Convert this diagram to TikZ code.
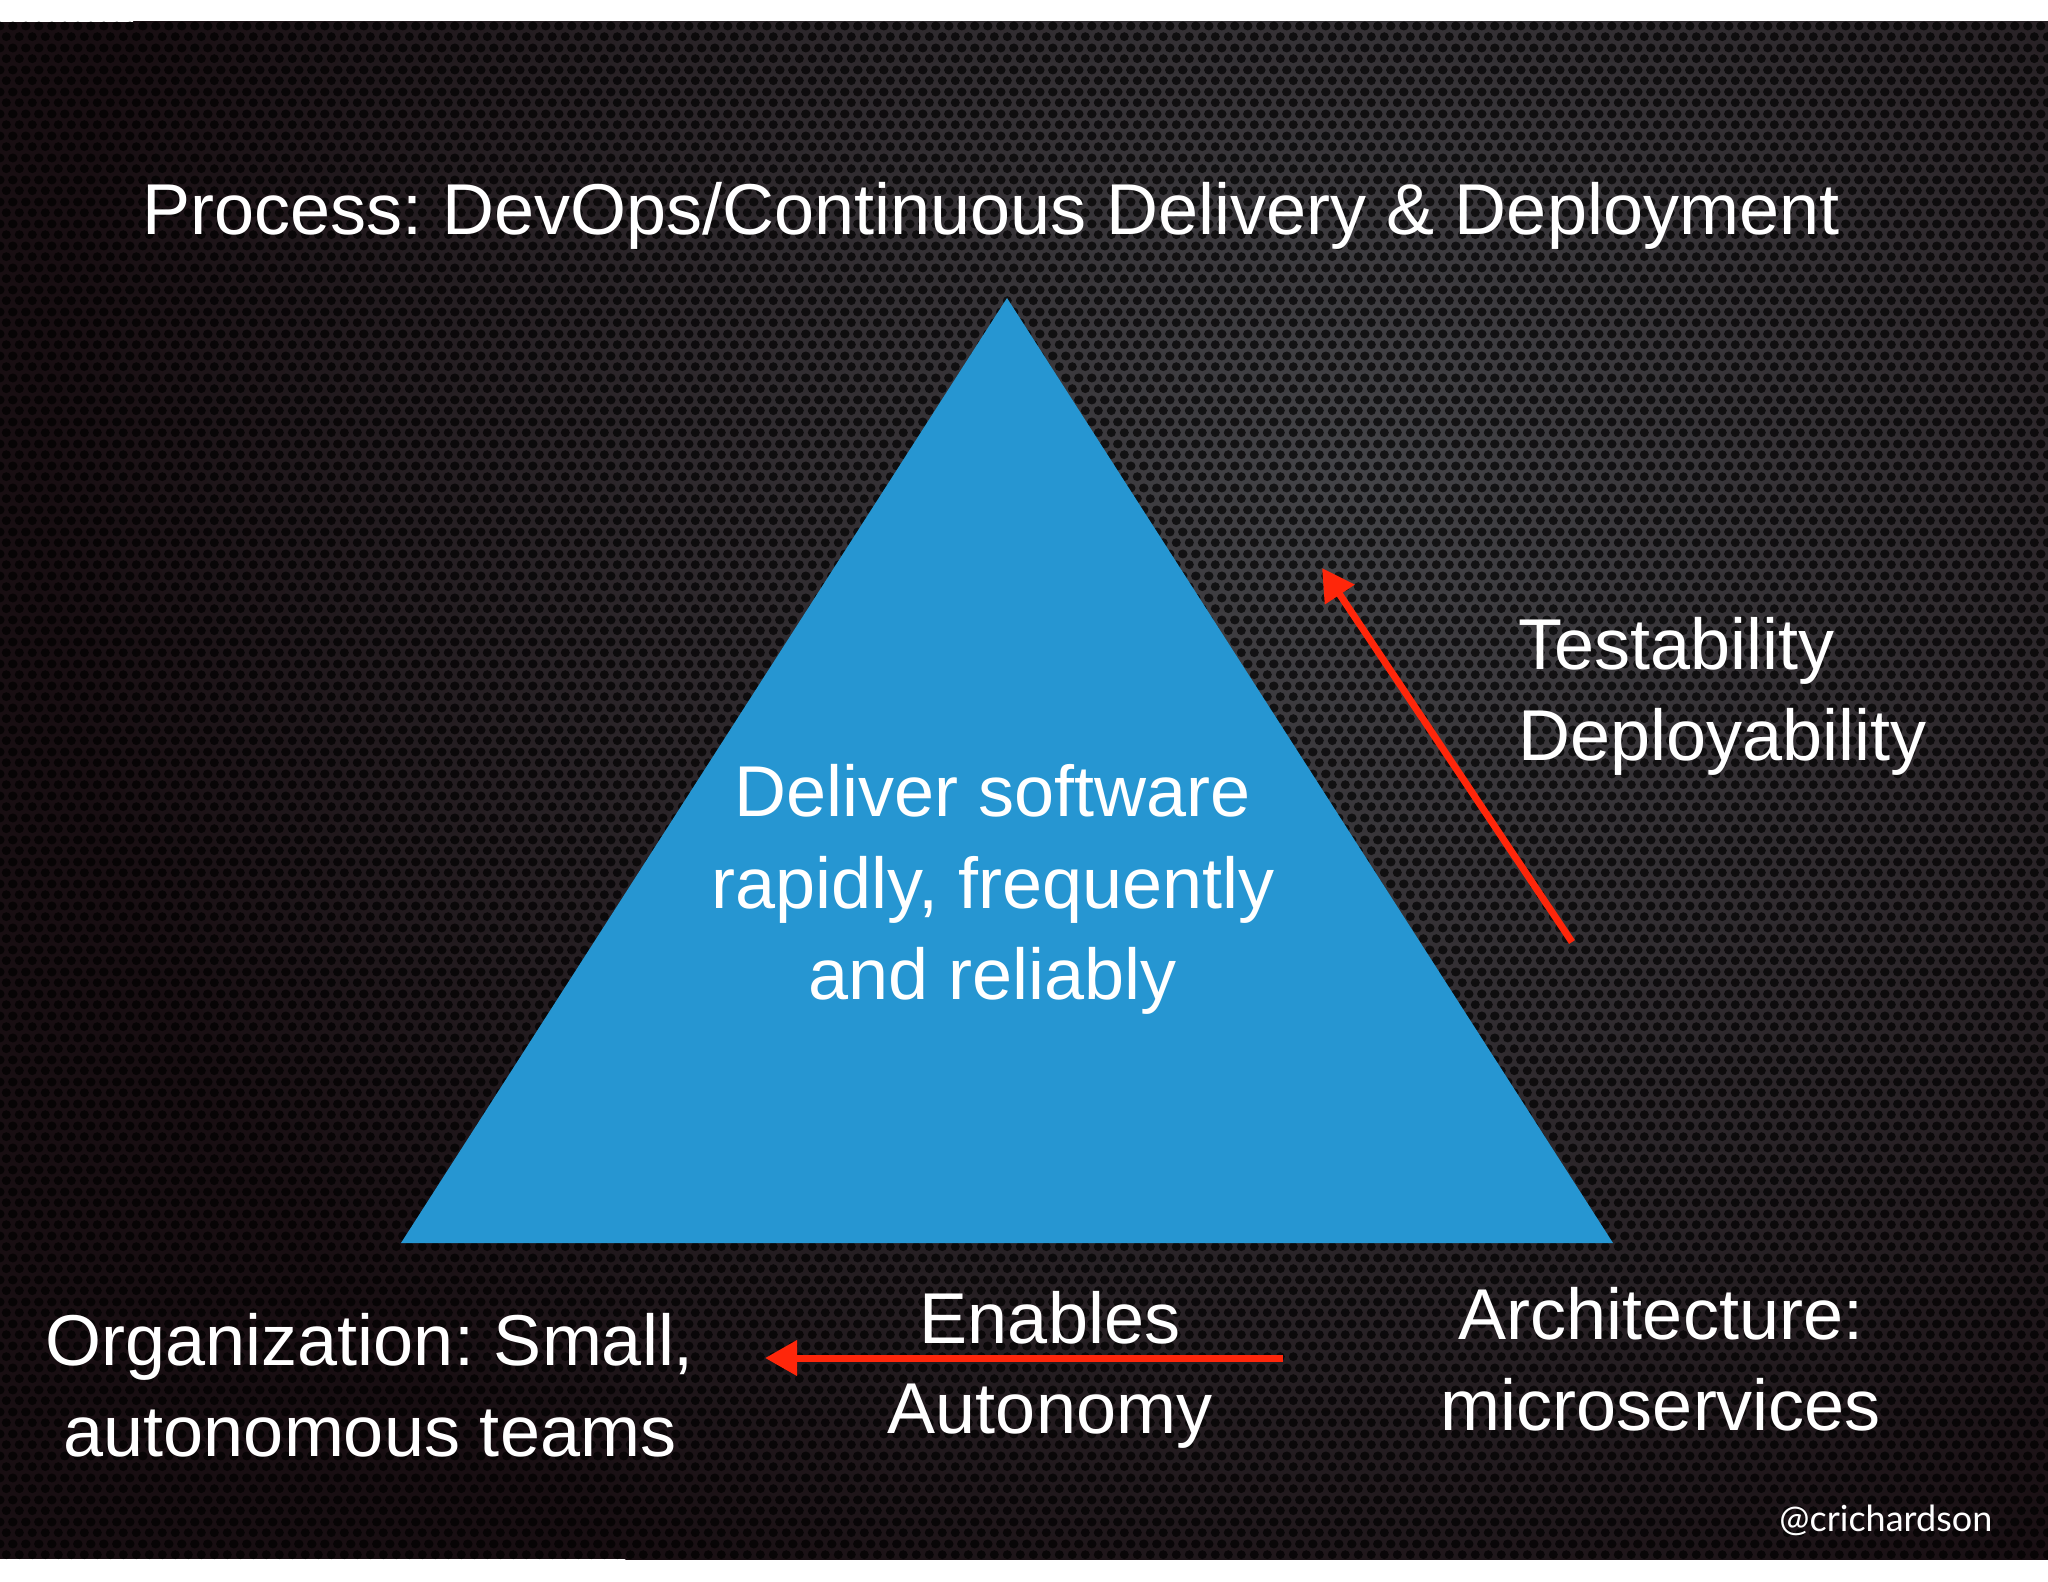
\documentclass[tikz,border=0pt]{standalone}
\usepackage{fontspec}
\setmainfont{Liberation Sans}
\newfontfamily\tagfont{Lato}
\usetikzlibrary{arrows.meta,patterns}
\frenchspacing
\definecolor{bgouter}{RGB}{24,14,18}
\definecolor{bginner}{RGB}{68,68,72}
\definecolor{triblue}{RGB}{38,150,210}
\definecolor{arrred}{RGB}{255,38,10}
\pgfdeclarepatternformonly{holes}{\pgfpointorigin}{\pgfpoint{6.4pt}{11.08pt}}{\pgfpoint{6.4pt}{11.08pt}}{%
  \pgfpathcircle{\pgfpoint{3.2pt}{2.77pt}}{2.3pt}%
  \pgfpathcircle{\pgfpoint{0pt}{8.31pt}}{2.3pt}%
  \pgfpathcircle{\pgfpoint{6.4pt}{8.31pt}}{2.3pt}%
  \pgfusepath{fill}}
\tikzset{
  lbl/.style={text=white, inner sep=0pt, font=\fontsize{36}{45}\selectfont, anchor=base},
  lblleft/.style={lbl, anchor=base west},
  tagtext/.style={text=white, inner sep=0pt, font=\tagfont\fontsize{18}{22}\selectfont, anchor=base west},
  redarrow/.style={draw=arrred, line width=3.5pt, -{Triangle[length=16pt,width=17pt]}},
  tri/.style={fill=triblue}
}
\begin{document}
\begin{tikzpicture}[x=0.5pt,y=-0.5pt]
\useasboundingbox (0,0) rectangle (2048,1582);
\fill[white] (0,0) rectangle (2048,1582);
% background
\fill[bgouter] (0,22) rectangle (2048,1559);
\begin{scope}
  \clip (0,22) rectangle (2048,1559);
  \shade[inner color=bginner, outer color=bgouter] (1350,480) circle (650pt);
  \fill[pattern=holes, pattern color=black, fill opacity=0.7] (0,22) rectangle (2048,1559);
\end{scope}
% triangle
\coordinate (apex) at (1007,298);
\coordinate (bl) at (401,1243);
\coordinate (br) at (1613,1243);
\fill[tri] (apex) -- (bl) -- (br) -- cycle;
% title
\node[lbl] (title) at (991,235) {Process: DevOps/Continuous Delivery \& Deployment};
% right labels
\node[lblleft] (test) at (1518,669) {Testability};
\node[lblleft] (deploy) at (1518,760) {Deployability};
% center text
\node[lbl] (c1) at (993,816) {Deliver software};
\node[lbl] (c2) at (993,908) {rapidly, frequently};
\node[lbl] (c3) at (993,999) {and reliably};
% bottom left
\node[lbl] (org1) at (370,1365) {Organization: Small,};
\node[lbl] (org2) at (370,1456) {autonomous teams};
% enables
\node[lbl] (en1) at (1050,1343) {Enables};
\node[lbl] (en2) at (1050,1433) {Autonomy};
% architecture
\node[lbl] (ar1) at (1661,1339) {Architecture:};
\node[lbl] (ar2) at (1661,1430) {microservices};
% tag
\node[tagtext] (tag) at (1779,1531) {@crichardson};
% arrows
\coordinate (ra1) at (1572,942);
\coordinate (ra2) at (1322,568);
\coordinate (ha1) at (1283,1358);
\coordinate (ha2) at (765,1358);
\draw[redarrow] (ra1) -- (ra2);
\draw[redarrow] (ha1) -- (ha2);
\end{tikzpicture}
\end{document}
